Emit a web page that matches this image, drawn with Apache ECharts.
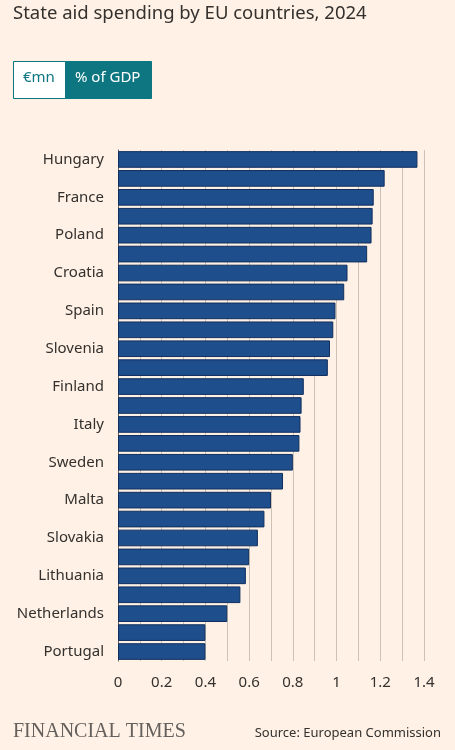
<!DOCTYPE html>
<html><head><meta charset="utf-8">
<script src="https://cdn.jsdelivr.net/npm/echarts@6/dist/echarts.min.js"></script>
<style>html,body{margin:0;padding:0;background:#fff1e5;}#c{width:455px;height:750px;}</style>
</head><body><div id="c"></div>
<script>
const countries = ["Hungary","Romania","France","Greece","Poland","Belgium","Croatia","Denmark","Spain","Czech Rep.","Slovenia","Germany","Finland","Estonia","Italy","Bulgaria","Sweden","Austria","Malta","Latvia","Slovakia","Luxembourg","Lithuania","Cyprus","Netherlands","Ireland","Portugal"];
const values = [1.37,1.22,1.17,1.165,1.16,1.14,1.05,1.035,0.995,0.985,0.97,0.96,0.85,0.84,0.835,0.83,0.80,0.755,0.70,0.67,0.64,0.60,0.585,0.56,0.50,0.40,0.40];
const xTicks = [0,0.2,0.4,0.6,0.8,1,1.2,1.4];
const chart = echarts.init(document.getElementById('c'));
const font = 'Noto Sans';
chart.setOption({
  backgroundColor:'#fff1e5',
  textStyle:{fontFamily:font},
  graphic:[
    {type:'text',left:13,top:4,style:{text:'State aid spending by EU countries, 2024',font:'18.5px Noto Sans',fill:'#33302e'}},
    {type:'rect',shape:{x:13.5,y:61.5,width:52,height:37},style:{fill:'#fff',stroke:'#0d7680',lineWidth:1}},
    {type:'rect',shape:{x:65.5,y:61.5,width:86,height:37},style:{fill:'#0d7680',stroke:'#0d7680',lineWidth:1}},
    {type:'text',left:23,top:70,style:{text:'€mn',font:'15px Noto Sans',fill:'#0d7680'}},
    {type:'text',left:75,top:70,style:{text:'% of GDP',font:'15px Noto Sans',fill:'#fff'}},
    {type:'text',left:13,top:722,style:{text:'FINANCIAL TIMES',font:'20px Liberation Serif',fill:'#66605c'}},
    {type:'text',right:14,top:727,style:{text:'Source: European Commission',font:'13px Noto Sans',fill:'#33302e',align:'right'}}
  ],
  grid:{left:118,right:31,top:150,bottom:89},
  xAxis:{type:'value',min:0,max:1.4,interval:0.1,
    axisLine:{show:false},axisTick:{show:false},
    splitLine:{show:true,lineStyle:{color:'#ccc1b7',width:1}},
    axisLabel:{color:'#33302e',fontSize:15,margin:14,
      formatter:v=>{const r=Math.round(v*10)/10;const t=xTicks.find(x=>Math.abs(x-r)<1e-6);return t===undefined?'':String(t);}}},
  yAxis:{type:'category',data:countries,inverse:true,
    axisLine:{show:true,lineStyle:{color:'#66605c'}},axisTick:{show:false},
    axisLabel:{color:'#33302e',fontSize:15,margin:14}},
  series:[{type:'bar',data:values,barCategoryGap:'12%',
    itemStyle:{color:'#1f4e8c',borderColor:'#0f2f5e',borderWidth:1}}]
});
</script></body></html>
